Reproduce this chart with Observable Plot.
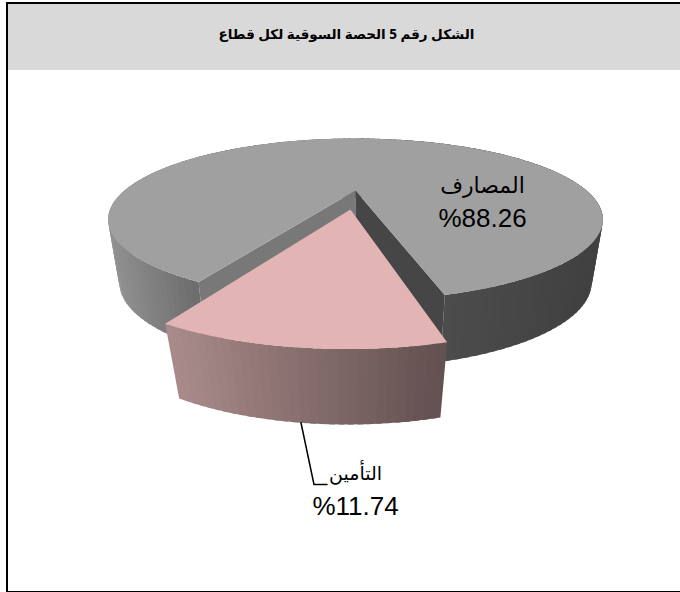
<!DOCTYPE html>
<html><head><meta charset="utf-8">
<script src="https://cdn.jsdelivr.net/npm/d3@7"></script>
<script src="https://cdn.jsdelivr.net/npm/@observablehq/plot@0.6"></script>
<style>
html,body{margin:0;padding:0;background:#fff}
#chart{position:relative;width:680px;height:592px;overflow:hidden}
#chart svg{position:absolute;left:0;top:0}
#frame{position:absolute;left:6px;top:2px;width:700px;height:590px;border:solid #000;border-width:2px 0 1.5px 2px;box-sizing:border-box}
#title{position:absolute;left:8px;top:4px;width:672px;height:66px;padding-left:5px;box-sizing:border-box;background:#d9d9d9;color:#000;text-align:center;font:bold 13.5px/61px "Noto Sans","DejaVu Sans",sans-serif;direction:rtl}
</style></head><body>
<div id="chart"><div id="title">الشكل رقم 5 الحصة السوقية لكل قطاع</div><div id="frame"></div></div>
<script>
const categories = ["المصارف", "التأمين"];
const shares = [88.26, 11.74];
const shareLabels = ["%88.26", "%11.74"];

// view of the tilted pie
const cx = 355, persp = -0.358;
const topPlane = {y0: 190, r: 231, a: 70.6};
const basePlane = {y0: 251.6, r: 220.5, a: 74.1};
const pinkBase = {y0: 260.5, r: 214, a: 72.8};
const explode = {u: -0.02, v: 0.245};
const none = {u: 0, v: 0};
const greyRotation = -6.5, pinkRotation = -7; // degrees, centre of the small slice
const rad = Math.PI / 180;

const half = shares[1] * 3.6 / 2;
const phiR = greyRotation + half, phiL = greyRotation - half;
const pinkR = pinkRotation + half, pinkL = pinkRotation - half;

function project(plane, u, v) {
  const d = 1 + persp * v;
  return {x: cx + plane.r * u / d, y: plane.y0 + plane.a * v / d};
}
const onRim = (plane, phi, off = none) =>
  project(plane, Math.sin(phi * rad) + off.u, Math.cos(phi * rad) + off.v);
const arc = (plane, from, to, off) =>
  d3.range(0, 121).map(i => onRim(plane, from + (to - from) * i / 120, off));

// outer wall as narrow overlapping bands, each with its own shade
function wall(upper, lower, from, to, off, x0, x1, c0, c1, n) {
  const shade = d3.interpolateRgb(c0, c1), pts = [];
  for (let i = 0; i < n; i++) {
    const a = from + (to - from) * i / n, b = from + (to - from) * Math.min(n, i + 1.6) / n;
    const quad = [onRim(upper, a, off), onRim(upper, b, off), onRim(lower, b, off), onRim(lower, a, off)];
    const t = Math.max(0, Math.min(1, ((quad[0].x + quad[1].x) / 2 - x0) / (x1 - x0)));
    const c = shade(t);
    quad.forEach(p => pts.push({...p, id: i, c}));
  }
  return pts;
}

const topFaceGrey = [project(topPlane, 0, 0), ...arc(topPlane, phiR, 360 + phiL)];
const outerRight = wall(topPlane, basePlane, 180, phiR, none, 445, 600, "#4c4c4c", "#404040", 90);
const outerLeft = wall(topPlane, basePlane, 180, 360 + phiL, none, 108, 200, "#929292", "#6c6c6c", 90);
const innerRight = [project(topPlane, 0, 0), onRim(topPlane, phiR), onRim(basePlane, phiR), project(basePlane, 0, 0)];
const innerLeft = [project(topPlane, 0, 0), onRim(topPlane, phiL), onRim(basePlane, phiL), project(basePlane, 0, 0)];
const pinkTop = [project(topPlane, explode.u, explode.v), ...arc(topPlane, pinkL, pinkR, explode)];
const pinkSide = wall(topPlane, pinkBase, pinkL, pinkR, explode, 163, 446, "#ab8c8c", "#635050", 30);

const leaderStart = onRim(pinkBase, pinkRotation, explode);
const leader = [leaderStart, {x: leaderStart.x + 13, y: 484}, {x: leaderStart.x + 26, y: 484}];

const face = (pts, fill) => Plot.line(pts, {x: "x", y: "y", fill, stroke: "none"});
const bands = pts => Plot.line(pts, {x: "x", y: "y", z: "id", fill: "c", stroke: "none"});
const labelFont = {fontFamily: '"Liberation Sans","DejaVu Sans",sans-serif', fill: "#000", textAnchor: "middle", lineAnchor: "middle"};

const plot = Plot.plot({
  width: 680, height: 592, margin: 0,
  style: {background: "transparent"},
  color: {type: "identity"},
  x: {domain: [0, 680], range: [0, 680], axis: null},
  y: {domain: [0, 592], range: [0, 592], axis: null},
  marks: [
    bands(outerRight),
    bands(outerLeft),
    face(innerLeft, "#787878"),
    face(innerRight, "#464646"),
    face(topFaceGrey, "#a0a0a0"),
    bands(pinkSide),
    face(pinkTop, "#e3b4b4"),
    Plot.line(leader, {x: "x", y: "y", stroke: "#000", strokeWidth: 1.5}),
    Plot.text([categories[0]], {x: 482, y: 185, text: d => d, fontSize: 22, ...labelFont}),
    Plot.text([shareLabels[0]], {x: 482, y: 218, text: d => d, fontSize: 26, ...labelFont}),
    Plot.text([categories[1]], {x: 355, y: 473, text: d => d, fontSize: 19, ...labelFont}),
    Plot.text([shareLabels[1]], {x: 355, y: 506, text: d => d, fontSize: 26, ...labelFont})
  ]
});
document.getElementById("chart").insertBefore(plot, document.getElementById("title"));
</script>
</body></html>
